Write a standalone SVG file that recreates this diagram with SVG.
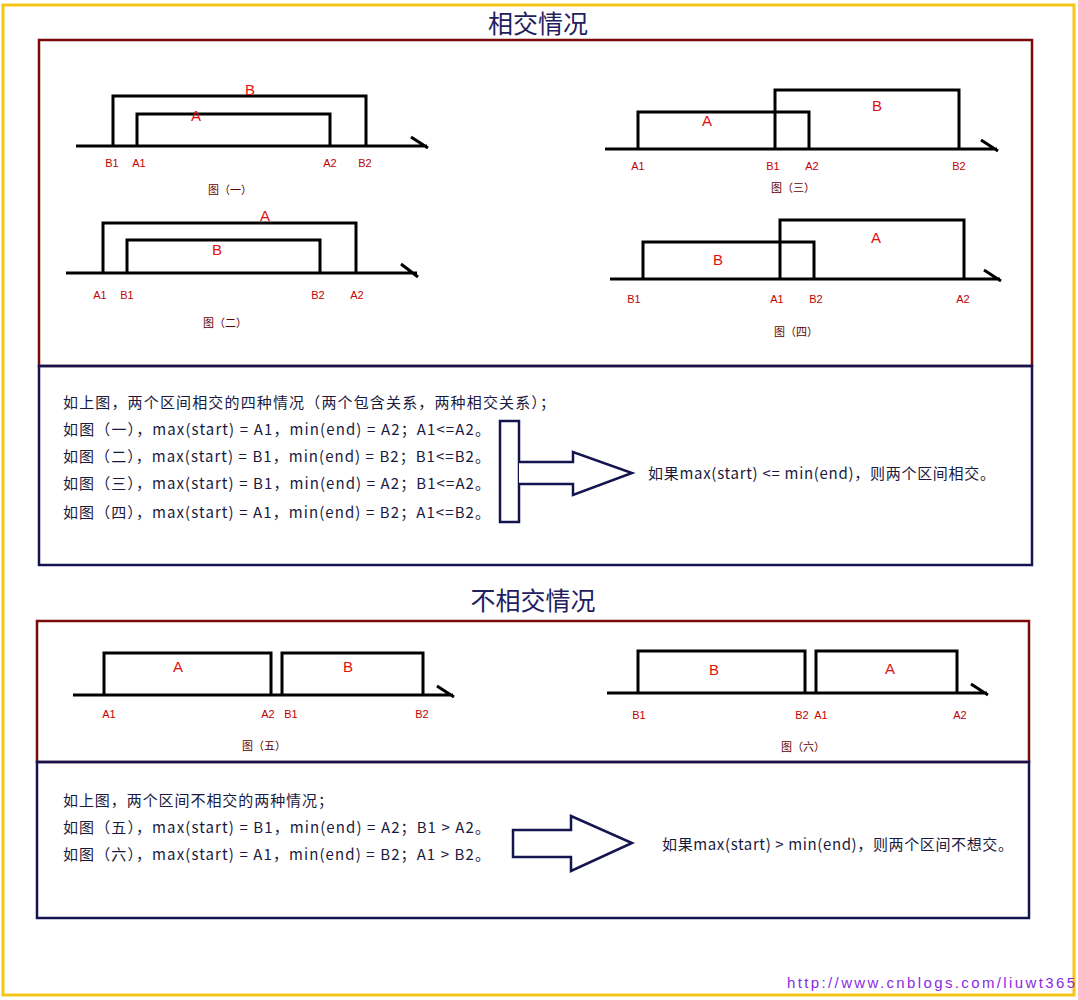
<svg xmlns="http://www.w3.org/2000/svg" width="1078" height="1000" viewBox="0 0 1078 1000">
<style>
.ax{stroke:#000;stroke-width:3;fill:none}
.r{stroke:#000;stroke-width:3;fill:none}
.lb{font-family:"Liberation Sans","Noto Sans CJK SC",sans-serif;font-size:11px;fill:#c00000;text-anchor:middle}
.big{font-family:"Liberation Sans","Noto Sans CJK SC",sans-serif;font-size:15px;fill:#e01010;text-anchor:middle}
.cap{font-family:"Noto Sans CJK SC",sans-serif;font-size:11px;fill:#600000;text-anchor:middle}
.tx{font-family:"Noto Sans CJK SC",sans-serif;font-size:15px;fill:#1a1a40}
.ttl{font-family:"Noto Sans CJK SC",sans-serif;font-size:25px;fill:#1f2060;text-anchor:middle}
.red{fill:none;stroke:#7a0a0a;stroke-width:2.5}
.nav{fill:none;stroke:#141450;stroke-width:2.5}
.arr{fill:#fff;stroke:#141450;stroke-width:2.5}
</style>
<rect x="3" y="5" width="1071" height="990" fill="#fff" stroke="#f5c518" stroke-width="3"/>
<text class="ttl" x="538" y="33">相交情况</text>
<rect class="red" x="39" y="40" width="993" height="326"/>
<rect class="nav" x="39" y="366" width="993" height="199"/>
<g id="fig1">
<path class="ax" d="M76 146H427M411 137L428 148"/>
<path class="r" d="M113 146V96H366V146M137 146V114H330V146"/>
<text class="big" x="250" y="95">B</text><text class="big" x="196" y="121">A</text>
<text class="lb" x="112" y="167">B1</text><text class="lb" x="139" y="167">A1</text><text class="lb" x="330" y="167">A2</text><text class="lb" x="365" y="167">B2</text>
<text class="cap" x="230" y="194">图（一）</text>
</g>
<g id="fig2">
<path class="ax" d="M66 273H417M401 264L418 277"/>
<path class="r" d="M103 273V223H356V273M127 273V240H320V273"/>
<text class="big" x="265" y="221">A</text><text class="big" x="217" y="255">B</text>
<text class="lb" x="100" y="299">A1</text><text class="lb" x="127" y="299">B1</text><text class="lb" x="318" y="299">B2</text><text class="lb" x="357" y="299">A2</text>
<text class="cap" x="225" y="327">图（二）</text>
</g>
<g id="fig3">
<path class="ax" d="M605 149H997M981 140L998 151"/>
<path class="r" d="M638 149V112H809V149M775 149V90H959V149"/>
<text class="big" x="707" y="126">A</text><text class="big" x="877" y="111">B</text>
<text class="lb" x="638" y="170">A1</text><text class="lb" x="773" y="170">B1</text><text class="lb" x="812" y="170">A2</text><text class="lb" x="959" y="170">B2</text>
<text class="cap" x="793" y="192">图（三）</text>
</g>
<g id="fig4">
<path class="ax" d="M610 279H1000M984 270L1001 281"/>
<path class="r" d="M643 279V242H814V279M780 279V220H964V279"/>
<text class="big" x="718" y="265">B</text><text class="big" x="876" y="243">A</text>
<text class="lb" x="634" y="303">B1</text><text class="lb" x="777" y="303">A1</text><text class="lb" x="816" y="303">B2</text><text class="lb" x="963" y="303">A2</text>
<text class="cap" x="796" y="336">图（四）</text>
</g>
<g id="text1">
<text class="tx" x="63" y="408" textLength="492" lengthAdjust="spacing">如上图，两个区间相交的四种情况（两个包含关系，两种相交关系）；</text>
<text class="tx" x="63" y="435" textLength="427" lengthAdjust="spacing">如图（一），max(start) = A1，min(end) = A2；A1&lt;=A2。</text>
<text class="tx" x="63" y="462" textLength="427" lengthAdjust="spacing">如图（二），max(start) = B1，min(end) = B2；B1&lt;=B2。</text>
<text class="tx" x="63" y="489" textLength="427" lengthAdjust="spacing">如图（三），max(start) = B1，min(end) = A2；B1&lt;=A2。</text>
<text class="tx" x="63" y="518" textLength="427" lengthAdjust="spacing">如图（四），max(start) = A1，min(end) = B2；A1&lt;=B2。</text>
</g>
<g id="arrow1">
<rect class="arr" x="500" y="421" width="19" height="101"/>
<path class="arr" d="M519 462H573V452L632 473L573 495V484H519"/>
<text class="tx" x="648" y="479" textLength="347" lengthAdjust="spacing">如果max(start) &lt;= min(end)，则两个区间相交。</text>
</g>
<text class="ttl" x="533" y="610">不相交情况</text>
<rect class="red" x="37" y="621" width="992" height="141"/>
<rect class="nav" x="37" y="762" width="992" height="156"/>
<g id="fig5">
<path class="ax" d="M73 695H453M437 686L454 697"/>
<path class="r" d="M104 695V653H271V695M282 695V653H423V695"/>
<text class="big" x="178" y="672">A</text><text class="big" x="348" y="672">B</text>
<text class="lb" x="109" y="718">A1</text><text class="lb" x="268" y="718">A2</text><text class="lb" x="291" y="718">B1</text><text class="lb" x="422" y="718">B2</text>
<text class="cap" x="264" y="750">图（五）</text>
</g>
<g id="fig6">
<path class="ax" d="M607 693H987M971 684L988 695"/>
<path class="r" d="M638 693V651H805V693M816 693V651H957V693"/>
<text class="big" x="714" y="675">B</text><text class="big" x="890" y="674">A</text>
<text class="lb" x="639" y="719">B1</text><text class="lb" x="802" y="719">B2</text><text class="lb" x="821" y="719">A1</text><text class="lb" x="960" y="719">A2</text>
<text class="cap" x="803" y="751">图（六）</text>
</g>
<g id="text2">
<text class="tx" x="63" y="806" textLength="270" lengthAdjust="spacing">如上图，两个区间不相交的两种情况；</text>
<text class="tx" x="63" y="833" textLength="427" lengthAdjust="spacing">如图（五），max(start) = B1，min(end) = A2；B1 &gt; A2。</text>
<text class="tx" x="63" y="860" textLength="427" lengthAdjust="spacing">如图（六），max(start) = A1，min(end) = B2；A1 &gt; B2。</text>
</g>
<g id="arrow2">
<path class="arr" d="M513 830H571V816L632 843L571 871V857H513Z"/>
<text class="tx" x="662" y="850" textLength="351" lengthAdjust="spacing">如果max(start) &gt; min(end)，则两个区间不想交。</text>
</g>
<text x="787" y="988" font-family="'Liberation Sans',sans-serif" font-size="15" fill="#8a2be2" textLength="288" lengthAdjust="spacing">http://www.cnblogs.com/liuwt365</text>
</svg>
